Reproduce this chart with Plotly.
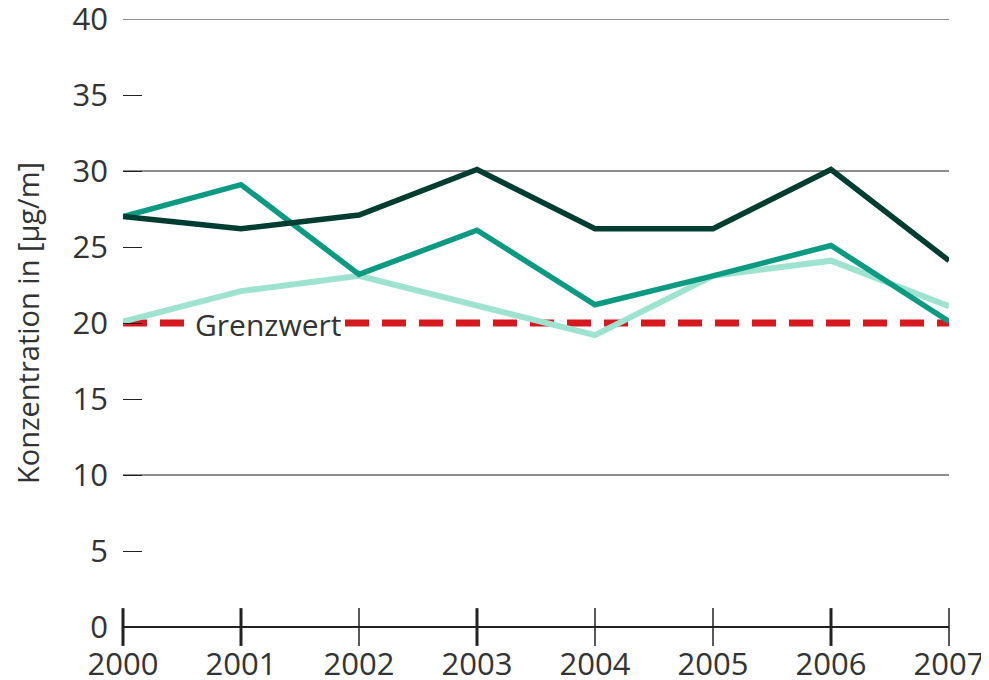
"""Konzentration chart, 2000-2007, with Grenzwert line."""

import plotly.graph_objects as go

YEARS = [2000, 2001, 2002, 2003, 2004, 2005, 2006, 2007]
SERIES_DARK = [27, 26.2, 27.1, 30.1, 26.2, 26.2, 30.1, 24.1]
SERIES_MID = [27, 29.1, 23.2, 26.1, 21.2, 23.1, 25.1, 20.1]
SERIES_LIGHT = [20.1, 22.1, 23.1, 21.2, 19.2, 23.1, 24.1, 21.1]
GRENZWERT = 20
GRID_LEVELS = [10, 30, 40]
Y_TICKS = [0, 5, 10, 15, 20, 25, 30, 35, 40]
# years whose tick mark is drawn heavier in the original
BOLD_TICK_YEARS = [2000, 2001, 2003, 2006]

FONT = "Open Sans"
TEXT_COLOR = "#333333"

fig = go.Figure()

# limit value (drawn first so the data lines sit on top)
fig.add_trace(
    go.Scatter(
        x=[YEARS[0], YEARS[-1]],
        y=[GRENZWERT, GRENZWERT],
        mode="lines",
        line=dict(color="#d7191f", width=7, dash="24px,13px"),
        hoverinfo="skip",
        showlegend=False,
    )
)

for values, color, width in [
    (SERIES_LIGHT, "#9de3d0", 6),
    (SERIES_MID, "#0d9a82", 5.5),
    (SERIES_DARK, "#003d31", 5.5),
]:
    fig.add_trace(
        go.Scatter(
            x=YEARS,
            y=values,
            mode="lines",
            line=dict(color=color, width=width),
            showlegend=False,
        )
    )

# tick marks crossing the x axis
fig.add_trace(
    go.Scatter(
        x=YEARS,
        y=[0] * len(YEARS),
        mode="markers",
        marker=dict(
            symbol="line-ns",
            size=27,
            color="#222222",
            line=dict(
                color="#222222",
                width=[3 if y in BOLD_TICK_YEARS else 1.5 for y in YEARS],
            ),
        ),
        cliponaxis=False,
        hoverinfo="skip",
        showlegend=False,
    )
)

for level in GRID_LEVELS:
    fig.add_hline(y=level, line_color="#1a1a1a", line_width=1.2, layer="below")

fig.add_annotation(
    x=YEARS[0] + 0.6,
    y=GRENZWERT,
    text="Grenzwert",
    showarrow=False,
    xanchor="left",
    yanchor="middle",
    bgcolor="white",
    borderpad=0,
    height=28,
    yshift=-1,
    font=dict(family=FONT, size=30, color=TEXT_COLOR),
)

# the page adds an 8px body margin, so the figure is 8px smaller here
fig.update_layout(
    width=981,
    height=672,
    margin=dict(l=115, r=40, t=11, b=53),
    paper_bgcolor="white",
    plot_bgcolor="white",
    font=dict(family=FONT, size=31, color=TEXT_COLOR),
    xaxis=dict(
        range=[YEARS[0], YEARS[-1]],
        tickvals=YEARS,
        showgrid=False,
        zeroline=False,
        showline=False,
        ticks="",
        automargin=False,
        ticklabelstandoff=16,
        ticklabeloverflow="allow",
        tickfont=dict(size=31),
    ),
    yaxis=dict(
        range=[0, 40],
        tickvals=Y_TICKS,
        showgrid=False,
        zeroline=True,
        zerolinecolor="#222222",
        zerolinewidth=1.5,
        showline=False,
        ticks="inside",
        ticklen=19,
        tickwidth=1.2,
        tickcolor="#222222",
        automargin=False,
        ticklabelstandoff=14,
        ticklabeloverflow="allow",
        tickfont=dict(size=31),
        title=dict(
            text="Konzentration in [µg/m]",
            font=dict(size=29),
            standoff=30,
        ),
    ),
)

fig.write_html("out.html")
